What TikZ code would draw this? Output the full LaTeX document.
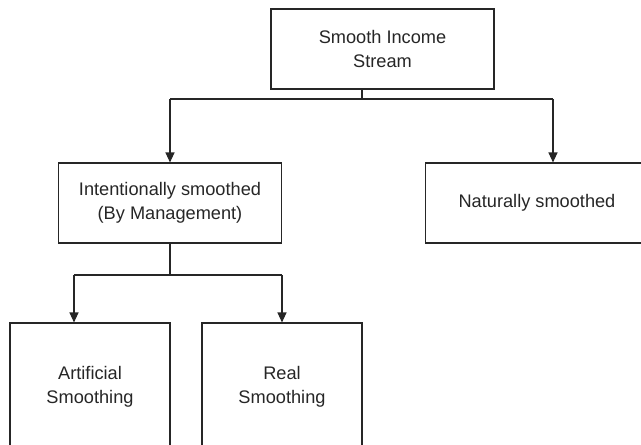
\documentclass[tikz,border=0pt]{standalone}
\usepackage{fontspec}
\setmainfont{Liberation Sans}
\usetikzlibrary{arrows.meta}

\begin{document}
\begin{tikzpicture}
  [x=1pt,y=-1pt,
   every node/.style={draw=black!85,line width=1.1pt,align=center,inner sep=0pt,
     font=\fontsize{18.2}{23.5}\selectfont,text=black!85},
   wide/.style={minimum width=223pt,minimum height=80pt},
   tall/.style={minimum width=160pt,minimum height=128pt},
   link/.style={draw=black!85,line width=1.1pt},
   arr/.style={link,-{Triangle[length=10pt,width=9pt]}}]
  \useasboundingbox (0,0) rectangle (641,445);
  \node[wide] (n1) at (382.5,49) {Smooth Income\\Stream};
  \node[wide] (n2) at (170,203) {Intentionally smoothed\\(By Management)};
  \node[wide] (n3) at (537,203) {Naturally smoothed};
  \node[tall] (n4) at (90,387) {Artificial\\Smoothing};
  \node[tall] (n5) at (282,387) {Real\\Smoothing};

  \coordinate (j1) at (362,99);
  \coordinate (j1r) at (553,99);
  \coordinate (j2) at (170,275);
  \coordinate (j2l) at (74,275);

  \draw[link] (n1.south -| j1) -- (j1);
  \draw[link] (j1 -| n2) -- (j1r);
  \draw[arr] (j1 -| n2) -- (n2.north);
  \draw[arr] (j1r) -- (j1r |- n3.north);

  \draw[link] (n2.south) -- (j2);
  \draw[link] (j2l) -- (j2 -| n5);
  \draw[arr] (j2l) -- (j2l |- n4.north);
  \draw[arr] (j2 -| n5) -- (n5.north);
\end{tikzpicture}
\end{document}
